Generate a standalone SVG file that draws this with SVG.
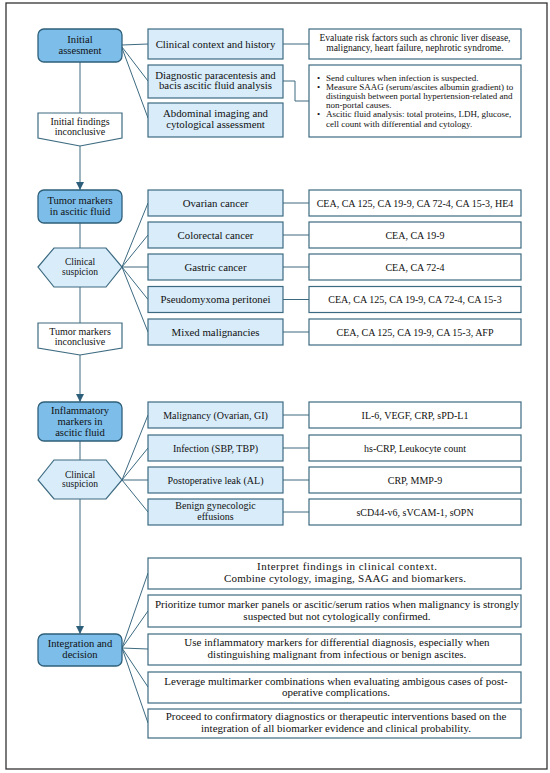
<svg xmlns="http://www.w3.org/2000/svg" width="550" height="773" viewBox="0 0 550 773">
<defs>
<marker id="arr" markerUnits="userSpaceOnUse" markerWidth="9" markerHeight="9" refX="8" refY="4" orient="auto">
<path d="M0,0 L8,4 L0,8 z" fill="#2e5f7a"/>
</marker>
<style>
text{font-family:"Liberation Serif","Times New Roman",serif;fill:#111;text-anchor:middle}
.main{fill:#7cbdea;stroke:#2e5f7a;stroke-width:1.3}
.lite{fill:#d8ecfa;stroke:#3c6a80;stroke-width:1.2}
.wht{fill:#fff;stroke:#3c6a80;stroke-width:1.2}
.con{fill:none;stroke:#3c6a80;stroke-width:1}
.t11{font-size:10.8px}
.tm{font-size:10.6px}
.tint{font-size:11px}
.t10{font-size:10px}
.t95{font-size:9.5px}
.t9{font-size:9px}
.lft{text-anchor:start}
</style>
</defs>
<rect x="0" y="0" width="550" height="773" fill="#fff"/>
<rect x="6" y="3" width="541" height="766" fill="#fff" stroke="#333" stroke-width="1.3"/>

<g id="connectors">
<line class="con" x1="80" y1="62" x2="80" y2="113"/>
<line class="con" x1="80" y1="146" x2="80" y2="190" marker-end="url(#arr)"/>
<line class="con" x1="80" y1="223" x2="80" y2="248"/>
<line class="con" x1="80" y1="287" x2="80" y2="323"/>
<line class="con" x1="80" y1="355" x2="80" y2="402" marker-end="url(#arr)"/>
<line class="con" x1="80" y1="441" x2="80" y2="460"/>
<line class="con" x1="80" y1="499" x2="80" y2="634" marker-end="url(#arr)"/>
<line class="con" x1="122" y1="45" x2="148" y2="44"/>
<line class="con" x1="122" y1="47" x2="148" y2="81"/>
<line class="con" x1="122" y1="48" x2="148" y2="118"/>
<line class="con" x1="283" y1="44" x2="309" y2="44"/>
<polyline class="con" points="283,81 295,81 295,101 309,101"/>
<line class="con" x1="122" y1="267" x2="148" y2="203"/>
<line class="con" x1="122" y1="267" x2="148" y2="235"/>
<line class="con" x1="122" y1="267" x2="148" y2="267"/>
<line class="con" x1="122" y1="267" x2="148" y2="299.5"/>
<line class="con" x1="122" y1="267" x2="148" y2="332"/>
<line class="con" x1="283" y1="203" x2="309" y2="203"/>
<line class="con" x1="283" y1="235" x2="309" y2="235"/>
<line class="con" x1="283" y1="267" x2="309" y2="267"/>
<line class="con" x1="283" y1="299.5" x2="309" y2="299.5"/>
<line class="con" x1="283" y1="332" x2="309" y2="332"/>
<line class="con" x1="122" y1="480" x2="148" y2="415"/>
<line class="con" x1="122" y1="480" x2="148" y2="448"/>
<line class="con" x1="122" y1="480" x2="148" y2="480"/>
<line class="con" x1="122" y1="480" x2="148" y2="512"/>
<line class="con" x1="283" y1="415" x2="309" y2="415"/>
<line class="con" x1="283" y1="448" x2="309" y2="448"/>
<line class="con" x1="283" y1="480" x2="309" y2="480"/>
<line class="con" x1="283" y1="512" x2="309" y2="512"/>
<line class="con" x1="122" y1="648" x2="148" y2="573"/>
<line class="con" x1="122" y1="648" x2="148" y2="611"/>
<line class="con" x1="122" y1="648" x2="148" y2="649"/>
<line class="con" x1="122" y1="648" x2="148" y2="687"/>
<line class="con" x1="122" y1="648" x2="148" y2="723"/>
</g>

<g id="initial">
<rect class="main" x="38" y="29" width="84" height="33" rx="6"/>
<text class="tm" x="80" y="43">Initial</text>
<text class="tm" x="80" y="54">assesment</text>
</g>
<g id="clinical-context">
<rect class="lite" x="148" y="29" width="135" height="30"/>
<text class="t11" x="215.5" y="48">Clinical context and history</text>
</g>
<g id="paracentesis">
<rect class="lite" x="148" y="65" width="135" height="33"/>
<text class="t11" x="215.5" y="78.5">Diagnostic paracentesis and</text>
<text class="t11" x="215.5" y="89">bacis ascitic fluid analysis</text>
</g>
<g id="imaging">
<rect class="lite" x="148" y="103" width="135" height="34"/>
<text class="t11" x="215.5" y="117">Abdominal imaging and</text>
<text class="t11" x="215.5" y="128">cytological assessment</text>
</g>
<g id="risk-factors">
<rect class="wht" x="309" y="29" width="212" height="30"/>
<text class="t95" x="415" y="41">Evaluate risk factors such as chronic liver disease,</text>
<text class="t95" x="415" y="51">malignancy, heart failure, nephrotic syndrome.</text>
</g>
<g id="fluid-analysis">
<rect class="wht" x="309" y="65" width="212" height="72"/>
<text class="t9 lft" x="317" y="80.5">•</text>
<text class="t9 lft" x="326" y="80.5">Send cultures when infection is suspected.</text>
<text class="t9 lft" x="317" y="89.7">•</text>
<text class="t9 lft" x="326" y="89.7">Measure SAAG (serum/ascites albumin gradient) to</text>
<text class="t9 lft" x="326" y="98.9">distinguish between portal hypertension-related and</text>
<text class="t9 lft" x="326" y="108.1">non-portal causes.</text>
<text class="t9 lft" x="317" y="117.3">•</text>
<text class="t9 lft" x="326" y="117.3">Ascitic fluid analysis: total proteins, LDH, glucose,</text>
<text class="t9 lft" x="326" y="126.5">cell count with differential and cytology.</text>
</g>
<g id="initial-inconclusive">
<polygon class="wht" points="38,113 122,113 122,138 80,146 38,138"/>
<text class="t10" x="80" y="124.5">Initial findings</text>
<text class="t10" x="80" y="134.5">inconclusive</text>
</g>

<g id="tumor-markers">
<rect class="main" x="38" y="190" width="84" height="33" rx="6"/>
<text class="tm" x="80" y="204">Tumor markers</text>
<text class="tm" x="80" y="215">in ascitic fluid</text>
</g>
<g id="suspicion1">
<polygon class="lite" points="38,267 54,248 106,248 122,267 106,287 54,287"/>
<text class="t95" x="80" y="265">Clinical</text>
<text class="t95" x="80" y="275">suspicion</text>
</g>
<g id="ovarian">
<rect class="lite" x="148" y="190" width="135" height="26"/>
<text class="t11" x="215.5" y="206.8">Ovarian cancer</text>
<rect class="wht" x="309" y="190" width="212" height="26"/>
<text class="t10" x="415" y="206.5">CEA, CA 125, CA 19-9, CA 72-4, CA 15-3, HE4</text>
</g>
<g id="colorectal">
<rect class="lite" x="148" y="222" width="135" height="26"/>
<text class="t11" x="215.5" y="238.8">Colorectal cancer</text>
<rect class="wht" x="309" y="222" width="212" height="26"/>
<text class="t10" x="415" y="238.5">CEA, CA 19-9</text>
</g>
<g id="gastric">
<rect class="lite" x="148" y="254" width="135" height="26"/>
<text class="t11" x="215.5" y="270.8">Gastric cancer</text>
<rect class="wht" x="309" y="254" width="212" height="26"/>
<text class="t10" x="415" y="270.5">CEA, CA 72-4</text>
</g>
<g id="pseudomyxoma">
<rect class="lite" x="148" y="286.5" width="135" height="26"/>
<text class="t11" x="215.5" y="303.3">Pseudomyxoma peritonei</text>
<rect class="wht" x="309" y="286.5" width="212" height="26"/>
<text class="t10" x="415" y="303">CEA, CA 125, CA 19-9, CA 72-4, CA 15-3</text>
</g>
<g id="mixed">
<rect class="lite" x="148" y="319" width="135" height="26"/>
<text class="t11" x="215.5" y="335.8">Mixed malignancies</text>
<rect class="wht" x="309" y="319" width="212" height="26"/>
<text class="t10" x="415" y="335.5">CEA, CA 125, CA 19-9, CA 15-3, AFP</text>
</g>
<g id="tumor-inconclusive">
<polygon class="wht" points="38,323 122,323 122,348 80,355 38,348"/>
<text class="t10" x="80" y="334.5">Tumor markers</text>
<text class="t10" x="80" y="344.5">inconclusive</text>
</g>

<g id="inflammatory">
<rect class="main" x="38" y="402" width="84" height="39" rx="6"/>
<text class="tm" x="80" y="414">Inflammatory</text>
<text class="tm" x="80" y="425">markers in</text>
<text class="tm" x="80" y="436">ascitic fluid</text>
</g>
<g id="suspicion2">
<polygon class="lite" points="38,480 54,460 106,460 122,480 106,499 54,499"/>
<text class="t95" x="80" y="477.5">Clinical</text>
<text class="t95" x="80" y="487">suspicion</text>
</g>
<g id="malignancy">
<rect class="lite" x="148" y="402" width="135" height="26"/>
<text class="t10" x="215.5" y="418.5">Malignancy (Ovarian, GI)</text>
<rect class="wht" x="309" y="402" width="212" height="26"/>
<text class="t10" x="415" y="418.5">IL-6, VEGF, CRP, sPD-L1</text>
</g>
<g id="infection">
<rect class="lite" x="148" y="435" width="135" height="26"/>
<text class="t10" x="215.5" y="451.5">Infection (SBP, TBP)</text>
<rect class="wht" x="309" y="435" width="212" height="26"/>
<text class="t10" x="415" y="451.5">hs-CRP, Leukocyte count</text>
</g>
<g id="postoperative">
<rect class="lite" x="148" y="467" width="135" height="26"/>
<text class="t10" x="215.5" y="483.5">Postoperative leak (AL)</text>
<rect class="wht" x="309" y="467" width="212" height="26"/>
<text class="t10" x="415" y="483.5">CRP, MMP-9</text>
</g>
<g id="benign">
<rect class="lite" x="148" y="499" width="135" height="26"/>
<text class="t10" x="215.5" y="508.5">Benign gynecologic</text>
<text class="t10" x="215.5" y="519.5">effusions</text>
<rect class="wht" x="309" y="499" width="212" height="26"/>
<text class="t10" x="415" y="515.5">sCD44-v6, sVCAM-1, sOPN</text>
</g>

<g id="integration">
<rect class="main" x="38" y="634" width="84" height="32" rx="6"/>
<text class="tm" x="80" y="647">Integration and</text>
<text class="tm" x="80" y="658">decision</text>
</g>
<g id="decision1">
<rect class="wht" x="148" y="558" width="373" height="31"/>
<text class="tint" x="347" y="570" textLength="180" lengthAdjust="spacing">Interpret findings in clinical context.</text>
<text class="tint" x="345" y="581.5" textLength="242" lengthAdjust="spacing">Combine cytology, imaging, SAAG and biomarkers.</text>
</g>
<g id="decision2">
<rect class="wht" x="148" y="595" width="373" height="32"/>
<text class="tint" x="337" y="608">Prioritize tumor marker panels or ascitic/serum ratios when malignancy is strongly</text>
<text class="tint" x="337" y="619.5">suspected but not cytologically confirmed.</text>
</g>
<g id="decision3">
<rect class="wht" x="148" y="634" width="373" height="31"/>
<text class="tint" x="337" y="646">Use inflammatory markers for differential diagnosis, especially when</text>
<text class="tint" x="337" y="657.5">distinguishing malignant from infectious or benign ascites.</text>
</g>
<g id="decision4">
<rect class="wht" x="148" y="672" width="373" height="31"/>
<text class="tint" x="336" y="684.5">Leverage multimarker combinations when evaluating ambigous cases of post-</text>
<text class="tint" x="336" y="696">operative complications.</text>
</g>
<g id="decision5">
<rect class="wht" x="148" y="709" width="373" height="29"/>
<text class="tint" x="336" y="720">Proceed to confirmatory diagnostics or therapeutic interventions based on the</text>
<text class="tint" x="336" y="731.5">integration of all biomarker evidence and clinical probability.</text>
</g>
</svg>
